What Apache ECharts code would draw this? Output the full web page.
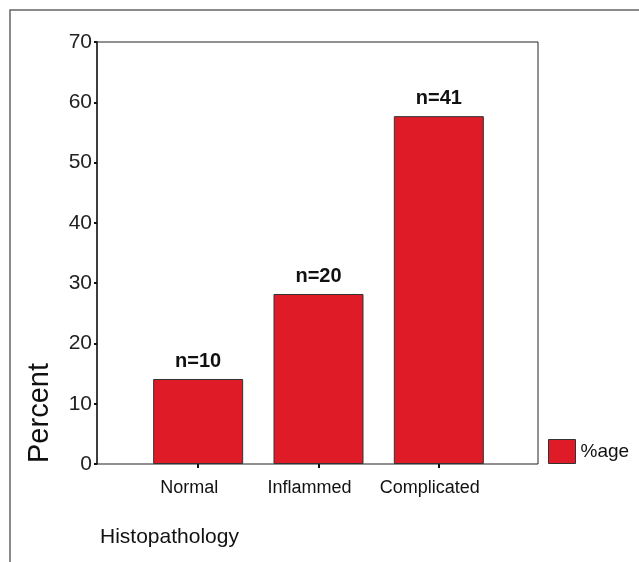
<!DOCTYPE html>
<html>
<head>
<meta charset="utf-8">
<script src="https://cdn.jsdelivr.net/npm/echarts@6/dist/echarts.min.js"></script>
<style>
  html, body { margin: 0; padding: 0; background: #fff; }
  #container { width: 639px; height: 562px; }
</style>
</head>
<body>
<div id="container"></div>
<script>
// data
var categories = ['Normal', 'Inflammed', 'Complicated'];
var percentValues = [14.1, 28.2, 57.7];
var nCounts = [10, 20, 41];
var yTicks = [0, 10, 20, 30, 40, 50, 60, 70];

var barRed = '#de1b26';
var sans = '"Liberation Sans", Arial, sans-serif';

var dom = document.getElementById('container');
var chart = echarts.init(dom, null, { renderer: 'canvas' });

var option = {
    animation: false,
    backgroundColor: '#fff',
    grid: [
        // the framed plot box with the percent axis
        { left: 97, right: 101, top: 42, bottom: 98, show: true, borderColor: '#222', borderWidth: 1 },
        // inner band used by the bars
        { left: 138, right: 140, top: 42, bottom: 98 }
    ],
    xAxis: [
        { gridIndex: 0, type: 'value', show: false, min: 0, max: 1 },
        {
            gridIndex: 1,
            type: 'category',
            data: categories,
            axisLine: { show: false },
            axisTick: { show: true, alignWithLabel: true, length: 4, lineStyle: { color: '#111', width: 2 } },
            axisLabel: {
                interval: 0,
                hideOverlap: false,
                color: '#111',
                fontFamily: sans,
                fontSize: 18,
                margin: 15,
                padding: [0, 18, 0, 0]
            }
        }
    ],
    yAxis: [
        {
            gridIndex: 0,
            type: 'value',
            min: yTicks[0],
            max: yTicks[yTicks.length - 1],
            interval: 10,
            axisLine: { show: true, lineStyle: { color: '#222', width: 1.5 } },
            axisTick: { show: true, length: 3, lineStyle: { color: '#111', width: 2 } },
            splitLine: { show: false },
            axisLabel: { color: '#222', fontFamily: sans, fontSize: 21, margin: 5 }
        },
        { gridIndex: 1, type: 'value', min: 0, max: 70, show: false }
    ],
    legend: {
        left: 548,
        top: 439,
        padding: 0,
        orient: 'vertical',
        itemWidth: 27,
        itemHeight: 24,
        itemGap: 5,
        icon: 'rect',
        data: ['%age'],
        textStyle: { color: '#111', fontFamily: sans, fontSize: 19 },
        itemStyle: { borderColor: '#333', borderWidth: 1 }
    },
    series: [
        {
            name: '%age',
            type: 'bar',
            xAxisIndex: 1,
            yAxisIndex: 1,
            data: percentValues,
            barWidth: 90,
            itemStyle: { color: barRed, borderColor: '#333', borderWidth: 1 },
            label: {
                show: true,
                position: 'top',
                distance: 8,
                color: '#111',
                fontFamily: sans,
                fontWeight: 'bold',
                fontSize: 20,
                formatter: function (p) { return 'n=' + nCounts[p.dataIndex]; }
            }
        }
    ],
    graphic: [
        {
            type: 'polyline',
            shape: { points: [[10, 562], [10, 10], [639, 10]] },
            style: { stroke: '#666', lineWidth: 1.5, fill: null },
            silent: true
        },
        {
            type: 'text',
            x: 40,
            y: 463,
            rotation: Math.PI / 2,
            style: { text: 'Percent', fill: '#111', font: '29px ' + sans, textAlign: 'left', textVerticalAlign: 'middle' }
        },
        {
            type: 'text',
            x: 100,
            y: 527,
            style: { text: 'Histopathology', fill: '#111', font: '21px ' + sans, textAlign: 'left', textVerticalAlign: 'top' }
        }
    ]
};

chart.setOption(option);
</script>
</body>
</html>
